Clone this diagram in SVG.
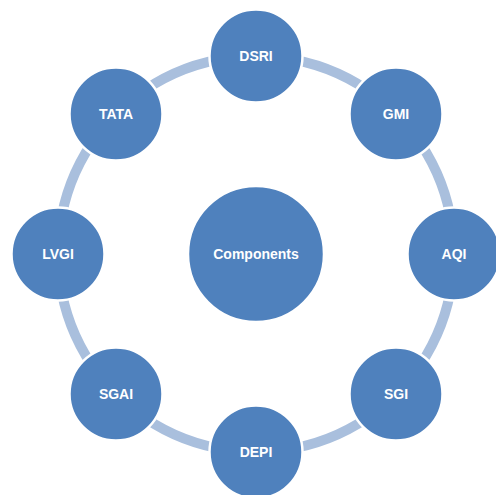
<svg xmlns="http://www.w3.org/2000/svg" width="496" height="495" viewBox="0 0 496 495">
<style>
.node{fill:#4f81bd;stroke:#ffffff;stroke-width:2.5}
.lbl{fill:#ffffff;font-family:"Liberation Sans",Arial,sans-serif;font-weight:bold;font-size:14px;text-anchor:middle}
.arc{fill:none;stroke:#a9bfdd;stroke-width:10}
</style>
<rect width="496" height="495" fill="#ffffff"/>
<g id="connectors">
<path class="arc" d="M 283.6 58.0 A 198 198 0 0 1 367.0 89.8"/>
<path class="arc" d="M 420.2 143.0 A 198 198 0 0 1 452.0 226.4"/>
<path class="arc" d="M 452.0 281.6 A 198 198 0 0 1 420.2 365.0"/>
<path class="arc" d="M 367.0 418.2 A 198 198 0 0 1 283.6 450.0"/>
<path class="arc" d="M 228.4 450.0 A 198 198 0 0 1 145.0 418.2"/>
<path class="arc" d="M 91.8 365.0 A 198 198 0 0 1 60.0 281.6"/>
<path class="arc" d="M 60.0 226.4 A 198 198 0 0 1 91.8 143.0"/>
<path class="arc" d="M 145.0 89.8 A 198 198 0 0 1 228.4 58.0"/>
</g>
<g id="components"><circle class="node" cx="256" cy="254" r="68"/><text class="lbl" x="256" y="259">Components</text></g>
<g id="dsri"><circle class="node" cx="256" cy="56" r="46.5"/><text class="lbl" x="256" y="61">DSRI</text></g>
<g id="gmi"><circle class="node" cx="396" cy="114" r="46.5"/><text class="lbl" x="396" y="119">GMI</text></g>
<g id="aqi"><circle class="node" cx="454" cy="254" r="46.5"/><text class="lbl" x="454" y="259">AQI</text></g>
<g id="sgi"><circle class="node" cx="396" cy="394" r="46.5"/><text class="lbl" x="396" y="399">SGI</text></g>
<g id="depi"><circle class="node" cx="256" cy="452" r="46.5"/><text class="lbl" x="256" y="457">DEPI</text></g>
<g id="sgai"><circle class="node" cx="116" cy="394" r="46.5"/><text class="lbl" x="116" y="399">SGAI</text></g>
<g id="lvgi"><circle class="node" cx="58" cy="254" r="46.5"/><text class="lbl" x="58" y="259">LVGI</text></g>
<g id="tata"><circle class="node" cx="116" cy="114" r="46.5"/><text class="lbl" x="116" y="119">TATA</text></g>
</svg>
